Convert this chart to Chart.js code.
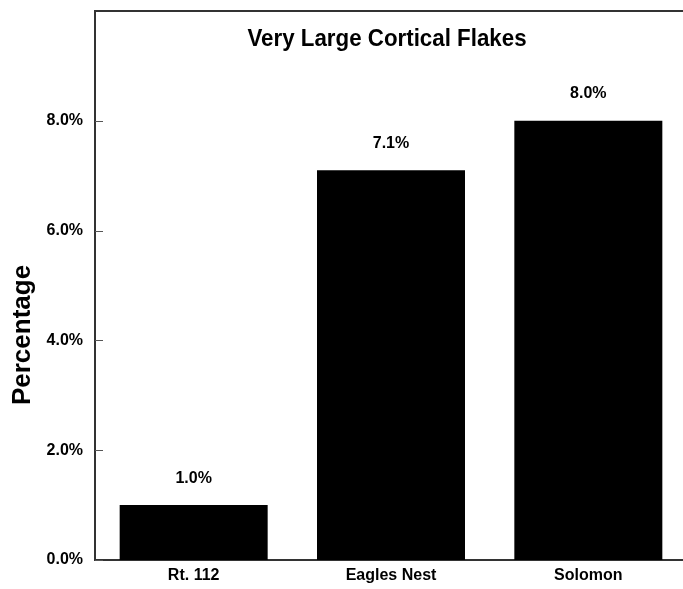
<!DOCTYPE html>
<html>
<head>
<meta charset="utf-8">
<script src="https://cdn.jsdelivr.net/npm/chart.js@4"></script>
<style>
  html, body { margin: 0; padding: 0; background: #fff; overflow: hidden; }
  #wrap { width: 687px; height: 589px; }
</style>
</head>
<body>
<div id="wrap"><canvas id="flakes"></canvas></div>
<script>
var sites = ['Rt. 112', 'Eagles Nest', 'Solomon'];
var percents = [1.0, 7.1, 8.0];
var yTicks = [0, 2, 4, 6, 8];

var FONT = '"Liberation Sans", Arial, Helvetica, sans-serif';

// frame along the top, inward tick marks, heading, axis title and bar labels
var decorations = {
  id: 'decorations',
  afterDraw: function (chart) {
    var ctx = chart.ctx;
    var area = chart.chartArea;
    var y = chart.scales.y;
    ctx.save();
    ctx.strokeStyle = '#333';
    ctx.lineWidth = 2;
    ctx.beginPath();
    ctx.moveTo(area.left - 1, area.top);
    ctx.lineTo(chart.width, area.top);
    ctx.stroke();

    ctx.lineWidth = 1;
    ctx.strokeStyle = '#555';
    yTicks.forEach(function (v) {
      var py = Math.round(y.getPixelForValue(v)) + 0.5;
      ctx.beginPath();
      ctx.moveTo(area.left, py);
      ctx.lineTo(area.left + 8, py);
      ctx.stroke();
    });

    ctx.fillStyle = '#000';
    ctx.textAlign = 'center';
    ctx.textBaseline = 'middle';

    // condensed bold heading
    ctx.save();
    ctx.translate(387, area.top + 28);
    ctx.scale(0.93, 1);
    ctx.font = 'bold 24px ' + FONT;
    ctx.fillText('Very Large Cortical Flakes', 0, 0);
    ctx.restore();

    // y axis title
    ctx.save();
    ctx.translate(23, 335);
    ctx.rotate(-Math.PI / 2);
    ctx.font = 'bold 26px ' + FONT;
    ctx.fillText('Percentage', 0, 0);
    ctx.restore();

    ctx.font = 'bold 16px ' + FONT;
    chart.getDatasetMeta(0).data.forEach(function (bar, i) {
      ctx.fillText(percents[i].toFixed(1) + '%', bar.x, bar.y - 27);
    });
    ctx.restore();
  }
};

var ctx = document.getElementById('flakes').getContext('2d');
var flakeChart = new Chart(ctx, {
  type: 'bar',
  data: {
    labels: sites,
    datasets: [{
      data: percents,
      backgroundColor: '#000',
      borderWidth: 0,
      barPercentage: 0.75,
      categoryPercentage: 1.0
    }]
  },
  options: {
    responsive: true,
    maintainAspectRatio: false,
    animation: false,
    layout: { padding: { left: 10, top: 0, right: 0, bottom: 0 } },
    plugins: {
      legend: { display: false },
      tooltip: { enabled: false }
    },
    scales: {
      x: {
        grid: { display: false, drawTicks: false },
        border: { color: '#333', width: 2 },
        ticks: {
          color: '#000',
          padding: 6,
          font: { family: FONT, size: 16, weight: 'bold' }
        },
        afterFit: function (scale) {
          scale.height = 29;
          scale.paddingRight = 0;
        }
      },
      y: {
        min: 0,
        max: 10,
        grid: { display: false, drawTicks: false },
        border: { color: '#333', width: 2 },
        ticks: {
          stepSize: 2,
          padding: 12,
          color: '#000',
          font: { family: FONT, size: 16, weight: 'bold' },
          callback: function (v) { return v >= 10 ? '' : v.toFixed(1) + '%'; }
        },
        afterFit: function (scale) {
          scale.width = 85;
          scale.paddingTop = 11;
        }
      }
    }
  },
  plugins: [decorations]
});
</script>
</body>
</html>
